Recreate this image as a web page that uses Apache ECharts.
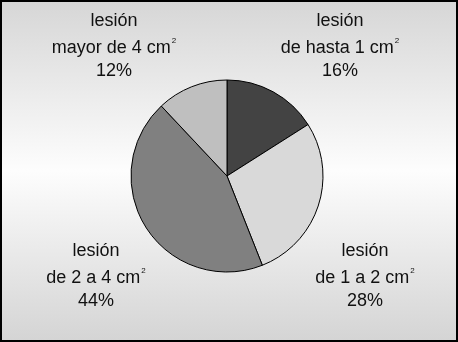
<!DOCTYPE html>
<html>
<head>
<meta charset="utf-8">
<script src="https://cdn.jsdelivr.net/npm/echarts@6/dist/echarts.min.js"></script>
<style>
html,body{margin:0;padding:0;background:#fff;}
#chart{width:458px;height:342px;}
</style>
</head>
<body>
<div id="chart"></div>
<script>
// Data
var categoryTitles = ['lesión', 'lesión', 'lesión', 'lesión'];
var categorySizes = ['de hasta 1 cm', 'de 1 a 2 cm', 'de 2 a 4 cm', 'mayor de 4 cm'];
var values = [16, 28, 44, 12];

var sliceColors = ['#434343', '#d9d9d9', '#808080', '#bfbfbf'];
// label block centres (x) and top (y), by data index
var labelX = [340, 365, 96, 114];
var labelY = [7, 237, 237, 7];

var chart = echarts.init(document.getElementById('chart'), null, {renderer: 'canvas'});

var seriesData = values.map(function (v, i) {
  return {
    value: v,
    name: categorySizes[i],
    itemStyle: {color: sliceColors[i]}
  };
});

var FONT = 'Liberation Sans, Arial, sans-serif';

var option = {
  animation: false,
  backgroundColor: {
    type: 'linear', x: 0, y: 0, x2: 0, y2: 1,
    colorStops: [
      {offset: 0, color: '#d6d6d6'},
      {offset: 0.5, color: '#fdfdfd'},
      {offset: 1, color: '#d4d4d4'}
    ]
  },
  graphic: [{
    type: 'rect',
    shape: {x: 1, y: 1, width: 456, height: 340},
    style: {fill: 'none', stroke: '#000', lineWidth: 2},
    silent: true,
    z: 100
  }],
  series: [{
    type: 'pie',
    center: [227, 176],
    radius: [0, 96],
    startAngle: 90,
    clockwise: true,
    data: seriesData,
    itemStyle: {borderColor: '#000', borderWidth: 1},
    labelLine: {show: false},
    label: {
      show: true,
      position: 'outside',
      width: 200,
      overflow: 'none',
      formatter: function (p) {
        return '{t|' + categoryTitles[p.dataIndex] + '}\n{s|' + p.name + '}{sup|2}\n{p|' + p.value + '%}';
      },
      color: '#111',
      fontFamily: FONT,
      fontSize: 18,
      align: 'center',
      rich: {
        t: {fontSize: 18, lineHeight: 28, color: '#111', fontFamily: FONT, align: 'center'},
        s: {fontSize: 18, lineHeight: 26, color: '#111', fontFamily: FONT, align: 'center'},
        sup: {fontSize: 8, lineHeight: 26, color: '#111', padding: [0, 0, 15, 1], fontFamily: FONT, align: 'center'},
        p: {fontSize: 18, lineHeight: 20, color: '#111', fontFamily: FONT, align: 'center'}
      }
    },
    labelLayout: function (params) {
      var i = params.dataIndex;
      return {
        x: labelX[i],
        y: labelY[i],
        align: 'center',
        verticalAlign: 'top'
      };
    }
  }]
};

chart.setOption(option);
</script>
</body>
</html>
